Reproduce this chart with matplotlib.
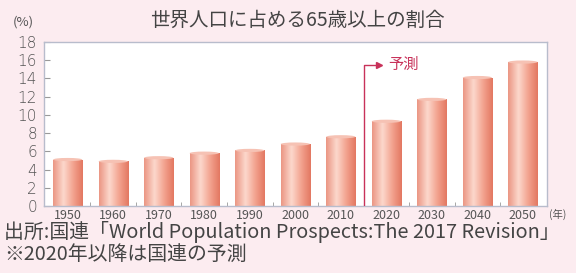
import matplotlib
matplotlib.use("Agg")
import matplotlib.pyplot as plt
import numpy as np
from matplotlib.colors import LinearSegmentedColormap
from matplotlib.patches import Ellipse

plt.rcParams['font.family'] = ['Noto Sans CJK JP', 'DejaVu Sans']

years = ["1950", "1960", "1970", "1980", "1990", "2000", "2010", "2020", "2030", "2040", "2050"]
values = [5.1, 4.9, 5.3, 5.8, 6.1, 6.8, 7.6, 9.3, 11.7, 14.1, 15.8]
yticks = [0, 2, 4, 6, 8, 10, 12, 14, 16, 18]
title = "世界人口に占める65歳以上の割合"
forecast_label = "予測"
source_line = "出所:国連「World Population Prospects:The 2017 Revision」"
note_line = "※2020年以降は国連の予測"

bg = "#fcecf0"
fig = plt.figure(figsize=(5.76, 2.73), dpi=100, facecolor=bg)
ax = fig.add_axes([44/576, 1-206/273, (547-44)/576, (206-42)/273])
ax.set_facecolor("white")

x = np.arange(len(years))
width = 0.64
cmap = LinearSegmentedColormap.from_list(
    "bar", [(0, "#eb9684"), (0.35, "#fcd8cc"), (0.7, "#f2a08c"), (1, "#e37862")])
grad = np.linspace(0, 1, 64).reshape(1, -1)

bars = ax.bar(x, values, width=width, color="none", edgecolor="none", zorder=2)
for b in bars:
    x0, w, h = b.get_x(), b.get_width(), b.get_height()
    im = ax.imshow(grad, cmap=cmap, aspect="auto", extent=[x0, x0 + w, 0, h],
                   zorder=2, interpolation="bicubic")
    im.set_clip_path(b)
    cap = Ellipse((x0 + w / 2, h), w, 0.35, facecolor="#f6c2b4", edgecolor="none", zorder=3)
    ax.add_patch(cap)

ax.set_xlim(-0.52, len(years) - 0.47)
ax.set_ylim(0, 18)
ax.set_yticks(yticks)
ax.set_xticks(x)
ax.set_xticklabels(years)
ax.set_xticks(x[:-1] + 0.5, minor=True)
ax.tick_params(axis="y", direction="in", length=4, color="#999999",
               labelsize=11, labelcolor="#555555", pad=5)
for lab in ax.get_yticklabels():
    lab.set_fontfamily("DejaVu Sans")
    lab.set_fontweight("light")
ax.tick_params(axis="x", which="major", length=0, labelsize=9, labelcolor="#555555", pad=2)
ax.tick_params(axis="x", which="minor", direction="in", length=3, color="#999999")
for s in ax.spines.values():
    s.set_color("#b8bccc")
    s.set_linewidth(1.0)

# forecast separator
sep_x = 6.5
ax.plot([sep_x, sep_x, sep_x + 0.3], [0, 15.5, 15.5], color="#c8325a", lw=1.0, zorder=4)
ax.plot([sep_x + 0.33], [15.5], marker=">", color="#c8325a", markersize=4, zorder=4)
ax.text(sep_x + 0.55, 15.5, forecast_label, color="#c8325a", fontsize=11,
        va="center", ha="left", zorder=4)

fig.text(297/576, 1-20/273, title, ha="center", va="center", fontsize=14, color="#444444")
fig.text(13/576, 1-22/273, "(%)", ha="left", va="center", fontsize=9.5, color="#555555")
fig.text(549/576, 1-214/273, "(年)", ha="left", va="center", fontsize=7.5, color="#555555")
fig.text(4/576, 1-232/273, source_line, ha="left", va="center", fontsize=14.3, color="#444444")
fig.text(4/576, 1-254/273, note_line, ha="left", va="center", fontsize=14.3, color="#444444")

fig.savefig("out.png", dpi=100, facecolor=bg)
